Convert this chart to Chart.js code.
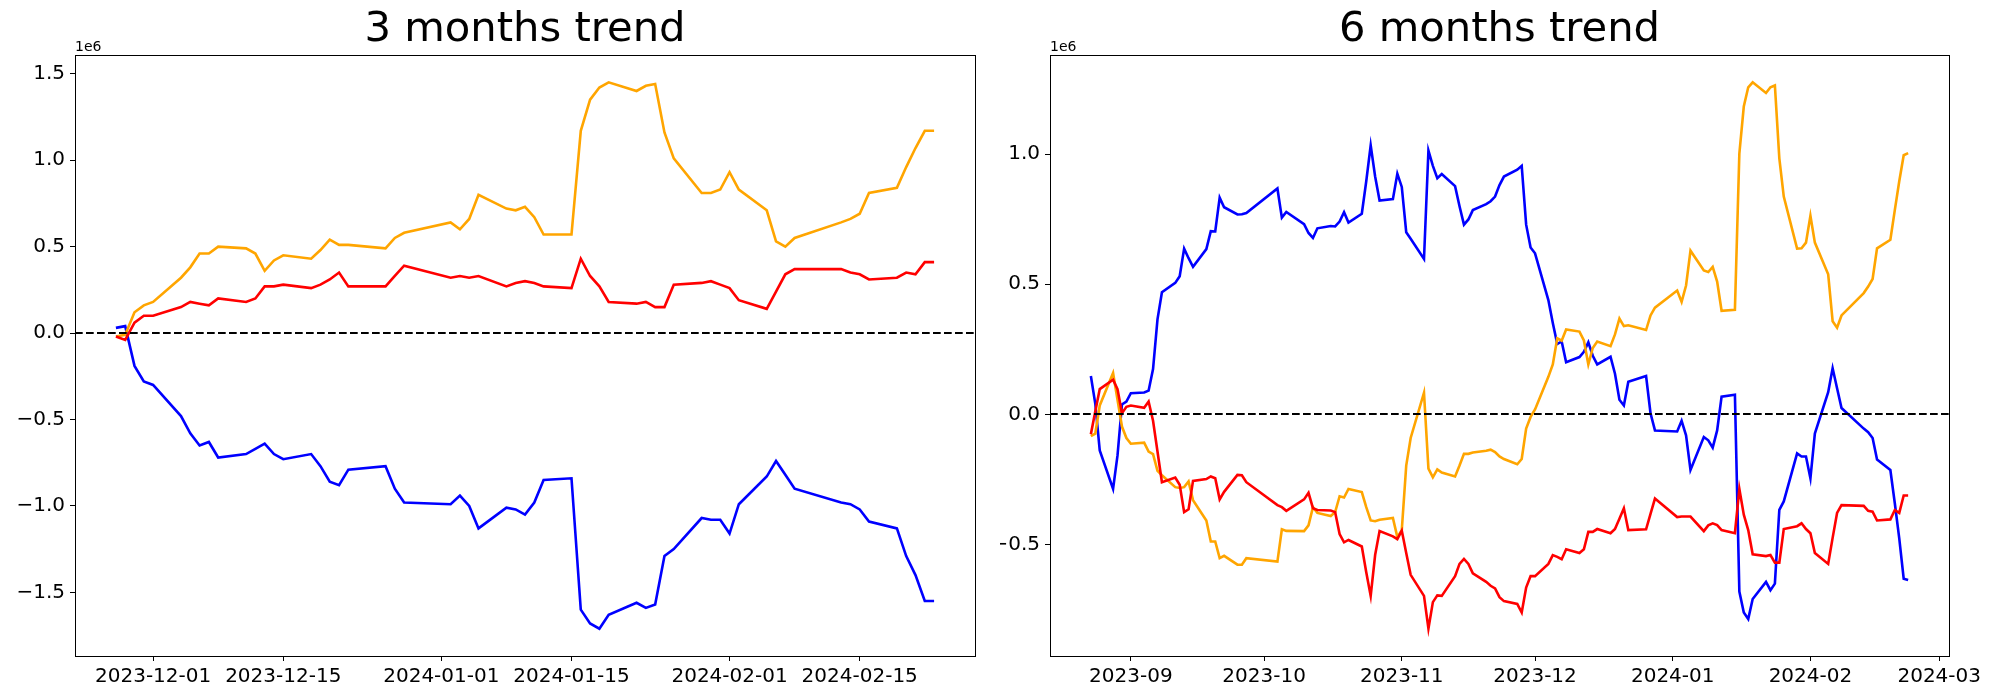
<!DOCTYPE html>
<html lang="en">
<head>
<meta charset="UTF-8">
<title>Trend</title>
<script src="https://cdn.jsdelivr.net/npm/chart.js@4"></script>
<style>
  body { margin: 0; background: #fff; }
  .box { position: absolute; top: 0; width: 1000px; height: 700px; }
</style>
</head>
<body>
<div class="box" style="left:0"><canvas id="chart3" width="1000" height="700"></canvas></div>
<div class="box" style="left:1000px"><canvas id="chart6" width="1000" height="700"></canvas></div>

<script>
// values are in units of 1e6

// 3 months
const dates3 = [
  '2023-11-27','2023-11-28','2023-11-29','2023-11-30',
  '2023-12-01','2023-12-04','2023-12-05','2023-12-06','2023-12-07','2023-12-08','2023-12-11','2023-12-12','2023-12-13','2023-12-14',
  '2023-12-15','2023-12-18','2023-12-19','2023-12-20','2023-12-21','2023-12-22','2023-12-26','2023-12-27','2023-12-28',
  '2024-01-02','2024-01-03','2024-01-04','2024-01-05','2024-01-08','2024-01-09','2024-01-10','2024-01-11','2024-01-12','2024-01-15',
  '2024-01-16','2024-01-17','2024-01-18','2024-01-19','2024-01-22','2024-01-23','2024-01-24','2024-01-25','2024-01-26','2024-01-29',
  '2024-01-30','2024-01-31',
  '2024-02-01','2024-02-02','2024-02-05','2024-02-06','2024-02-07','2024-02-08','2024-02-13','2024-02-14','2024-02-15','2024-02-16',
  '2024-02-19','2024-02-20','2024-02-21','2024-02-22','2024-02-23'
];
const blue3 = [
  0.03, 0.04, -0.19, -0.28,
  -0.30, -0.48, -0.58, -0.65, -0.63, -0.72, -0.70, -0.67, -0.64, -0.70, -0.73, -0.70, -0.77, -0.86, -0.88, -0.79, -0.77, -0.90, -0.98,
  -0.99, -0.94, -1.00, -1.13, -1.01, -1.02, -1.05, -0.98, -0.85, -0.84, -1.60, -1.68, -1.71, -1.63, -1.56, -1.59, -1.57, -1.29, -1.25, -1.07, -1.08, -1.08,
  -1.16, -0.99, -0.83, -0.74, -0.82, -0.90, -0.98, -0.99, -1.02, -1.09, -1.13, -1.29, -1.40, -1.55, -1.55
];
const orange3 = [
  -0.02, -0.01, 0.12, 0.16,
  0.18, 0.32, 0.38, 0.46, 0.46, 0.50, 0.49, 0.46, 0.36, 0.42, 0.45, 0.43, 0.48, 0.54, 0.51, 0.51, 0.49, 0.55, 0.58,
  0.64, 0.60, 0.66, 0.80, 0.72, 0.71, 0.73, 0.67, 0.57, 0.57, 1.17, 1.35, 1.42, 1.45, 1.40, 1.43, 1.44, 1.16, 1.01, 0.81, 0.81, 0.83,
  0.93, 0.83, 0.71, 0.53, 0.50, 0.55, 0.64, 0.66, 0.69, 0.81, 0.84, 0.96, 1.07, 1.17, 1.17
];
const red3 = [
  -0.02, -0.04, 0.06, 0.10,
  0.10, 0.15, 0.18, 0.17, 0.16, 0.20, 0.18, 0.20, 0.27, 0.27, 0.28, 0.26, 0.28, 0.31, 0.35, 0.27, 0.27, 0.33, 0.39,
  0.32, 0.33, 0.32, 0.33, 0.27, 0.29, 0.30, 0.29, 0.27, 0.26, 0.43, 0.33, 0.27, 0.18, 0.17, 0.18, 0.15, 0.15, 0.28, 0.29, 0.30, 0.28,
  0.26, 0.19, 0.14, 0.24, 0.34, 0.37, 0.37, 0.35, 0.34, 0.31, 0.32, 0.35, 0.34, 0.41, 0.41
];
const xTicks3 = ['2023-12-01', '2023-12-15', '2024-01-01', '2024-01-15', '2024-02-01', '2024-02-15'];
const yTicks3 = [-1.5, -1.0, -0.5, 0.0, 0.5, 1.0, 1.5];

// 6 months
const dates6 = [
  '2023-08-23','2023-08-24','2023-08-25','2023-08-28','2023-08-29','2023-08-30','2023-08-31',
  '2023-09-01','2023-09-04','2023-09-05','2023-09-06','2023-09-07','2023-09-08','2023-09-11','2023-09-12','2023-09-13','2023-09-14',
  '2023-09-15','2023-09-18','2023-09-19','2023-09-20','2023-09-21','2023-09-22','2023-09-25','2023-09-26','2023-09-27',
  '2023-10-04','2023-10-05','2023-10-06','2023-10-10','2023-10-11','2023-10-12','2023-10-13','2023-10-16','2023-10-17','2023-10-18',
  '2023-10-19','2023-10-20','2023-10-23','2023-10-24','2023-10-25','2023-10-26','2023-10-27','2023-10-30','2023-10-31',
  '2023-11-01','2023-11-02','2023-11-03','2023-11-06','2023-11-07','2023-11-08','2023-11-09','2023-11-10','2023-11-13','2023-11-14',
  '2023-11-15','2023-11-16','2023-11-17','2023-11-20','2023-11-21','2023-11-22','2023-11-23','2023-11-24','2023-11-27','2023-11-28',
  '2023-11-29','2023-11-30',
  '2023-12-01','2023-12-04','2023-12-05','2023-12-06','2023-12-07','2023-12-08','2023-12-11','2023-12-12','2023-12-13','2023-12-14',
  '2023-12-15','2023-12-18','2023-12-19','2023-12-20','2023-12-21','2023-12-22','2023-12-26','2023-12-27','2023-12-28',
  '2024-01-02','2024-01-03','2024-01-04','2024-01-05','2024-01-08','2024-01-09','2024-01-10','2024-01-11','2024-01-12','2024-01-15',
  '2024-01-16','2024-01-17','2024-01-18','2024-01-19','2024-01-22','2024-01-23','2024-01-24','2024-01-25','2024-01-26','2024-01-29',
  '2024-01-30','2024-01-31',
  '2024-02-01','2024-02-02','2024-02-05','2024-02-06','2024-02-07','2024-02-08','2024-02-13','2024-02-14','2024-02-15','2024-02-16',
  '2024-02-19','2024-02-20','2024-02-21','2024-02-22','2024-02-23'
];
const blue6 = [
  0.147, 0.04, -0.139, -0.287, -0.158, 0.038, 0.049,
  0.081, 0.084, 0.091, 0.174, 0.365, 0.469, 0.505, 0.531, 0.637, 0.60, 0.567, 0.635, 0.704, 0.703, 0.833, 0.796, 0.768, 0.769, 0.774,
  0.868, 0.756, 0.778, 0.731, 0.697, 0.678, 0.715, 0.724, 0.722, 0.741, 0.777, 0.737, 0.771, 0.896, 1.034, 0.914, 0.822, 0.827, 0.925,
  0.874, 0.700, 0.675, 0.597, 1.014, 0.955, 0.908, 0.924, 0.877, 0.800, 0.729, 0.749, 0.785, 0.808, 0.819, 0.837, 0.881, 0.914, 0.940, 0.955, 0.729, 0.641,
  0.619, 0.439, 0.351, 0.270, 0.280, 0.200, 0.220, 0.240, 0.277, 0.225, 0.192, 0.221, 0.156, 0.056, 0.034, 0.125, 0.147, 0.004, -0.062,
  -0.066, -0.025, -0.081, -0.214, -0.087, -0.100, -0.128, -0.062, 0.068, 0.075, -0.681, -0.762, -0.787, -0.710, -0.644, -0.676, -0.651, -0.367, -0.335, -0.150, -0.162, -0.162,
  -0.246, -0.074, 0.085, 0.177, 0.100, 0.024, -0.055, -0.069, -0.091, -0.174, -0.214, -0.342, -0.477, -0.632, -0.637
];
const orange6 = [
  -0.084, -0.074, 0.034, 0.159, 0.056, -0.047, -0.091,
  -0.113, -0.109, -0.143, -0.153, -0.217, -0.234, -0.280, -0.283, -0.280, -0.258, -0.330, -0.408, -0.489, -0.489, -0.553, -0.544, -0.578, -0.578, -0.553,
  -0.566, -0.442, -0.448, -0.449, -0.427, -0.357, -0.379, -0.391, -0.376, -0.315, -0.320, -0.287, -0.299, -0.357, -0.408, -0.411, -0.405, -0.398, -0.472,
  -0.445, -0.197, -0.091, 0.083, -0.209, -0.242, -0.212, -0.224, -0.239, -0.197, -0.152, -0.152, -0.147, -0.140, -0.136, -0.145, -0.162, -0.172, -0.192, -0.172, -0.055, -0.010,
  0.019, 0.144, 0.192, 0.292, 0.283, 0.326, 0.318, 0.284, 0.192, 0.255, 0.280, 0.262, 0.307, 0.368, 0.339, 0.342, 0.324, 0.380, 0.410,
  0.476, 0.432, 0.495, 0.629, 0.553, 0.547, 0.567, 0.510, 0.398, 0.402, 1.002, 1.183, 1.257, 1.276, 1.235, 1.257, 1.264, 0.984, 0.837, 0.637, 0.638, 0.660,
  0.763, 0.660, 0.538, 0.358, 0.333, 0.380, 0.466, 0.491, 0.520, 0.638, 0.671, 0.785, 0.896, 0.996, 1.004
];
const red6 = [
  -0.077, 0.012, 0.097, 0.133, 0.097, 0.004, 0.029,
  0.034, 0.025, 0.049, -0.025, -0.143, -0.261, -0.243, -0.271, -0.376, -0.365, -0.256, -0.249, -0.239, -0.246, -0.327, -0.298, -0.233, -0.234, -0.261,
  -0.349, -0.357, -0.371, -0.327, -0.302, -0.361, -0.368, -0.370, -0.376, -0.460, -0.492, -0.483, -0.508, -0.607, -0.698, -0.541, -0.449, -0.469, -0.480,
  -0.447, -0.533, -0.617, -0.698, -0.824, -0.722, -0.696, -0.698, -0.622, -0.575, -0.556, -0.575, -0.611, -0.644, -0.659, -0.669, -0.703, -0.718, -0.729, -0.762, -0.666, -0.622,
  -0.622, -0.575, -0.541, -0.548, -0.557, -0.519, -0.533, -0.519, -0.452, -0.452, -0.441, -0.457, -0.441, -0.401, -0.361, -0.445, -0.442, -0.383, -0.324,
  -0.395, -0.393, -0.393, -0.393, -0.449, -0.427, -0.419, -0.426, -0.445, -0.457, -0.287, -0.386, -0.445, -0.538, -0.545, -0.541, -0.570, -0.570, -0.441, -0.430, -0.419, -0.441,
  -0.457, -0.533, -0.575, -0.475, -0.379, -0.349, -0.352, -0.371, -0.374, -0.408, -0.404, -0.368, -0.379, -0.312, -0.312
];
const xTicks6 = ['2023-09', '2023-10', '2023-11', '2023-12', '2024-01', '2024-02', '2024-03'];
const yTicks6 = [-0.5, 0.0, 0.5, 1.0];


function toDay(s) {
  const p = s.split('-').map(Number);
  return Date.UTC(p[0], p[1] - 1, p[2] || 1) / 864e5;
}

function points(dates, vals) {
  return dates.map((d, i) => ({ x: toDay(d), y: vals[i] }));
}

// axes frame, dashed zero line and the 1e6 offset label
const decor = {
  id: 'decor',
  afterDatasetsDraw(chart) {
    const { ctx, chartArea: a, scales } = chart;
    const y0 = Math.round(scales.y.getPixelForValue(0));
    ctx.save();
    ctx.strokeStyle = '#000';
    ctx.lineWidth = 2.1;
    ctx.setLineDash([7.7, 3.3]);
    ctx.beginPath();
    ctx.moveTo(a.left, y0);
    ctx.lineTo(a.right, y0);
    ctx.stroke();
    ctx.restore();
  },
  afterDraw(chart) {
    const { ctx, chartArea: a } = chart;
    ctx.save();
    ctx.strokeStyle = '#000';
    ctx.lineWidth = 1;
    ctx.strokeRect(Math.round(a.left) + 0.5, Math.round(a.top) + 0.5, Math.round(a.right - a.left), Math.round(a.bottom - a.top));
    ctx.fillStyle = '#000';
    ctx.font = '14px "DejaVu Sans"';
    ctx.textAlign = 'left';
    ctx.textBaseline = 'alphabetic';
    ctx.fillText('1e6', a.left, a.top - 4);
    ctx.restore();
  }
};

function makeChart(id, title, dates, blue, orange, red, xTicks, yTicks, yWidth, padRight) {
  const x0 = toDay(dates[0]), x1 = toDay(dates[dates.length - 1]);
  const all = blue.concat(orange, red);
  const lo = Math.min(...all), hi = Math.max(...all);
  const line = (data, color, order) => ({
    data, borderColor: color, backgroundColor: color, borderWidth: 2.6,
    pointRadius: 0, tension: 0, fill: false, order
  });

  return new Chart(document.getElementById(id), {
    type: 'line',
    data: {
      datasets: [
        line(points(dates, blue), '#0000ff', 3),
        line(points(dates, orange), '#ffa500', 2),
        line(points(dates, red), '#ff0000', 1)
      ]
    },
    options: {
      responsive: false,
      animation: false,
      devicePixelRatio: 1,
      layout: { padding: { left: 0, right: padRight, top: 0, bottom: 0 } },
      plugins: {
        legend: { display: false },
        tooltip: { enabled: false },
        title: {
          display: true,
          text: title,
          fullSize: false,
          color: '#000',
          font: { family: 'DejaVu Sans', size: 41.7, weight: 'normal', lineHeight: 1.2 },
          padding: { top: 5, bottom: 0 }
        }
      },
      scales: {
        x: {
          type: 'linear',
          min: x0 - 0.05 * (x1 - x0),
          max: x1 + 0.05 * (x1 - x0),
          afterBuildTicks: (scale) => { scale.ticks = xTicks.map(t => ({ value: toDay(t) })); },
          afterFit: (scale) => { scale.height = 44; },
          border: { display: true, color: '#000', width: 1 },
          grid: { display: true, drawOnChartArea: false, drawTicks: true, tickLength: 5, color: '#000' },
          ticks: {
            autoSkip: false, maxRotation: 0, minRotation: 0, padding: 4, color: '#000',
            font: { family: 'DejaVu Sans', size: 20 },
            callback: (v, i) => xTicks[i]
          }
        },
        y: {
          type: 'linear',
          min: lo - 0.05 * (hi - lo),
          max: hi + 0.05 * (hi - lo),
          afterBuildTicks: (scale) => { scale.ticks = yTicks.map(v => ({ value: v })); },
          afterFit: (scale) => { scale.width = yWidth; },
          border: { display: true, color: '#000', width: 1 },
          grid: { display: true, drawOnChartArea: false, drawTicks: true, tickLength: 5, color: '#000' },
          ticks: {
            padding: 5, color: '#000',
            font: { family: 'DejaVu Sans', size: 20 },
            callback: (v) => v.toFixed(1).replace('-', '\u2212')
          }
        }
      }
    },
    plugins: [decor]
  });
}

makeChart('chart3', '3 months trend', dates3, blue3, orange3, red3, xTicks3, yTicks3, 75, 25);
makeChart('chart6', '6 months trend', dates6, blue6, orange6, red6, xTicks6, yTicks6, 50, 51);
</script>
</body>
</html>
